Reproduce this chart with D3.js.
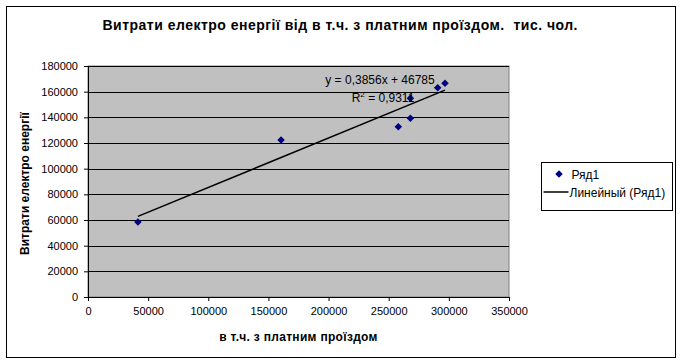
<!DOCTYPE html>
<html>
<head>
<meta charset="utf-8">
<script src="https://cdn.jsdelivr.net/npm/d3@7"></script>
<style>
	body { margin: 0; background: #fff; }
	svg text { font-family: 'Liberation Sans', Arial, sans-serif; }
</style>
</head>
<body>
<div id="vis"></div>
<script>
// data
var xValues = [41500, 160500, 258000, 268000, 268000, 290700, 296800];
var yValues = [58400, 122300, 132700, 139200, 154800, 163100, 166500];
var slope = 0.3856,
	intercept = 46785;
var xTicks = [0, 50000, 100000, 150000, 200000, 250000, 300000, 350000];
var yTicks = [0, 20000, 40000, 60000, 80000, 100000, 120000, 140000, 160000, 180000];
var seriesName = 'Ряд1',
	trendName = 'Линейный (Ряд1)';

var width = 681,
	height = 363;

var margin = { left: 88, top: 66, right: 172, bottom: 66 };
var drawWidth = 509 - margin.left,
	drawHeight = 297 - margin.top;

var svg = d3.select('#vis')
	.append('svg')
	.attr('width', width)
	.attr('height', height);

// outer frame
svg.append('rect')
	.attr('x', 6.5).attr('y', 6.5)
	.attr('width', 669).attr('height', 351)
	.attr('fill', '#fff')
	.attr('stroke', '#000');

svg.append('text')
	.attr('x', 340)
	.attr('y', 30)
	.attr('text-anchor', 'middle')
	.attr('font-size', 14)
	.attr('font-weight', 'bold')
	.attr('textLength', 475)
	.style('white-space', 'pre')
	.text('Витрати електро енергії від в т.ч. з платним проїздом.  тис. чол.');

var xScale = d3.scaleLinear().domain([0, 350000]).range([0, drawWidth]);
var yScale = d3.scaleLinear().domain([0, 180000]).range([drawHeight, 0]);

var g = svg.append('g')
	.attr('transform', 'translate(' + margin.left + ',' + margin.top + ')');

g.append('rect')
	.attr('width', drawWidth)
	.attr('height', drawHeight)
	.attr('fill', '#c0c0c0')
	.attr('stroke', '#808080');

g.selectAll('.grid')
	.data(yTicks.slice(1))
	.enter().append('line')
	.attr('class', 'grid')
	.attr('x1', 0)
	.attr('x2', drawWidth)
	.attr('y1', function(d) { return Math.round(yScale(d)) + 0.5; })
	.attr('y2', function(d) { return Math.round(yScale(d)) + 0.5; })
	.attr('stroke', '#000');

var xAxis = d3.axisBottom(xScale)
	.tickValues(xTicks)
	.tickSize(4)
	.tickPadding(6)
	.tickFormat(d3.format('d'));

var yAxis = d3.axisLeft(yScale)
	.tickValues(yTicks)
	.tickSize(4)
	.tickPadding(6)
	.tickFormat(d3.format('d'));

g.append('g')
	.attr('transform', 'translate(0,' + drawHeight + ')')
	.call(xAxis)
	.call(function(s) {
		s.select('.domain').attr('stroke', '#000');
		s.selectAll('text').attr('font-size', 11).attr('fill', '#000').attr('font-family', "'Liberation Sans', Arial, sans-serif");
	});

g.append('g')
	.call(yAxis)
	.call(function(s) {
		s.select('.domain').attr('stroke', '#000');
		s.selectAll('text').attr('font-size', 11).attr('fill', '#000').attr('font-family', "'Liberation Sans', Arial, sans-serif");
	});

// trend line over the data range
var xExtent = d3.extent(xValues);
g.append('line')
	.attr('x1', xScale(xExtent[0]))
	.attr('y1', yScale(slope * xExtent[0] + intercept))
	.attr('x2', xScale(xExtent[1]))
	.attr('y2', yScale(slope * xExtent[1] + intercept))
	.attr('stroke', '#000')
	.attr('stroke-width', 1.5);

var diamond = d3.symbol().type(d3.symbolDiamond2).size(36);

g.selectAll('.pt')
	.data(xValues)
	.enter().append('path')
	.attr('class', 'pt')
	.attr('d', diamond)
	.attr('transform', function(d, i) { return 'translate(' + xScale(d) + ',' + yScale(yValues[i]) + ')'; })
	.attr('fill', '#000080');

g.append('text')
	.attr('x', 292)
	.attr('y', 18)
	.attr('text-anchor', 'middle')
	.attr('font-size', 12)
	.text('y = 0,3856x + 46785');

var r2 = g.append('text')
	.attr('x', 295)
	.attr('y', 36)
	.attr('text-anchor', 'middle')
	.attr('font-size', 12);
r2.append('tspan').text('R');
r2.append('tspan').attr('font-size', 8).attr('dy', -5).text('2');
r2.append('tspan').attr('dy', 5).text(' = 0,9311');

// axis titles
svg.append('text')
	.attr('transform', 'translate(29,' + (margin.top + drawHeight / 2 + 2) + ') rotate(-90)')
	.attr('text-anchor', 'middle')
	.attr('font-size', 12)
	.attr('font-weight', 'bold')
	.text('Витрати електро енергії');

svg.append('text')
	.attr('x', margin.left + drawWidth / 2)
	.attr('y', 341)
	.attr('text-anchor', 'middle')
	.attr('font-size', 12)
	.attr('font-weight', 'bold')
	.attr('letter-spacing', 0.3)
	.text('в т.ч. з платним проїздом');

// legend
var legend = svg.append('g')
	.attr('transform', 'translate(541.5,162.5)');

legend.append('rect')
	.attr('width', 131)
	.attr('height', 48)
	.attr('fill', '#fff')
	.attr('stroke', '#000');

legend.append('path')
	.attr('d', diamond)
	.attr('transform', 'translate(17.5,11.5)')
	.attr('fill', '#000080');

legend.append('text')
	.attr('x', 30)
	.attr('y', 16)
	.attr('font-size', 12)
	.text(seriesName);

legend.append('line')
	.attr('x1', 2).attr('x2', 27)
	.attr('y1', 29.5).attr('y2', 29.5)
	.attr('stroke', '#000')
	.attr('stroke-width', 1.5);

legend.append('text')
	.attr('x', 28)
	.attr('y', 34)
	.attr('font-size', 12)
	.text(trendName);
</script>
</body>
</html>
